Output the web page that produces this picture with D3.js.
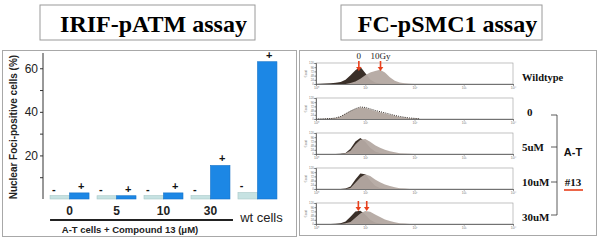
<!DOCTYPE html>
<html>
<head>
<meta charset="utf-8">
<script src="https://cdn.jsdelivr.net/npm/d3@7"></script>
<style>
  body { margin: 0; background: #fff; }
  svg { display: block; }
</style>
</head>
<body>
<div id="chart"></div>
<script>
// ---- left panel data (IRIF-pATM) ----
const groups = ["0", "5", "10", "30", "wt cells"];
const treatments = ["-", "+"];
const minusValues = [1.6, 1.5, 1.6, 1.6, 3.0];
const plusValues = [2.8, 1.5, 2.8, 15.4, 63];
const yTicks = [20, 40, 60];

// ---- right panel data (FC-pSMC1), counts as fraction of box height ----
const binLog = [0.0, 0.1, 0.2, 0.3, 0.4, 0.5, 0.6, 0.7, 0.8, 0.9, 1.0,
                1.1, 1.2, 1.3, 1.4, 1.5, 1.6, 1.7, 1.8, 1.9, 2.0, 2.1];
const histLabels = ["Wildtype", "0", "5uM", "10uM", "30uM"];
const darkCounts = [
  [0, 0.01, 0.02, 0.04, 0.06, 0.1, 0.2, 0.42, 0.66, 0.82, 0.52, 0.22, 0.07, 0.02, 0.01, 0, 0, 0, 0, 0, 0, 0],
  [0, 0, 0.01, 0.02, 0.05, 0.12, 0.25, 0.38, 0.49, 0.57, 0.55, 0.48, 0.41, 0.35, 0.29, 0.23, 0.17, 0.12, 0.08, 0.05, 0.03, 0.01],
  [0, 0, 0, 0, 0, 0.01, 0.05, 0.25, 0.6, 0.76, 0.58, 0.3, 0.12, 0.05, 0.02, 0, 0, 0, 0, 0, 0, 0],
  [0, 0, 0, 0, 0, 0, 0.02, 0.12, 0.45, 0.74, 0.7, 0.4, 0.15, 0.05, 0.02, 0, 0, 0, 0, 0, 0, 0],
  [0, 0, 0, 0, 0.01, 0.03, 0.12, 0.35, 0.6, 0.63, 0.45, 0.2, 0.07, 0.02, 0, 0, 0, 0, 0, 0, 0, 0]
];
const grayCounts = [
  [0, 0, 0, 0, 0, 0, 0, 0.05, 0.12, 0.25, 0.42, 0.55, 0.62, 0.68, 0.55, 0.32, 0.15, 0.07, 0.03, 0.01, 0, 0],
  [0, 0, 0.01, 0.02, 0.05, 0.12, 0.25, 0.38, 0.48, 0.55, 0.52, 0.45, 0.38, 0.32, 0.26, 0.2, 0.15, 0.1, 0.07, 0.04, 0.02, 0.01],
  [0, 0, 0, 0, 0, 0, 0.03, 0.15, 0.45, 0.68, 0.72, 0.58, 0.42, 0.3, 0.2, 0.13, 0.08, 0.04, 0.02, 0.01, 0, 0],
  [0, 0, 0, 0, 0, 0, 0, 0.05, 0.3, 0.55, 0.7, 0.62, 0.45, 0.32, 0.22, 0.14, 0.08, 0.04, 0.02, 0, 0, 0],
  [0, 0, 0, 0, 0, 0, 0.03, 0.1, 0.3, 0.5, 0.62, 0.58, 0.45, 0.33, 0.22, 0.14, 0.08, 0.04, 0.02, 0, 0, 0]
];
const decadeTicks = [1, 10, 100, 1000, 10000];
const decadeLabels = ["10⁰", "10¹", "10²", "10³", "10⁴"];

const W = 601, H = 242;
const svg = d3.select("#chart").append("svg")
  .attr("width", W).attr("height", H);

// title boxes
function titleBox(x, w, label) {
  svg.append("rect").attr("x", x).attr("y", 5).attr("width", w).attr("height", 35)
    .attr("fill", "#fff").attr("stroke", "#9a9a9a").attr("stroke-width", 1);
  svg.append("text").attr("x", x + w / 2 + 6).attr("y", 32)
    .attr("text-anchor", "middle")
    .style("font-family", "'Liberation Serif', 'Times New Roman', serif")
    .style("font-weight", "bold").style("font-size", "24px")
    .text(label);
}
titleBox(40, 215, "IRIF-pATM assay");
titleBox(341, 201, "FC-pSMC1 assay");

// panel frames
svg.append("rect").attr("x", 2.5).attr("y", 50.5).attr("width", 294).attr("height", 186)
  .attr("fill", "none").attr("stroke", "#a8a8a8");
svg.append("rect").attr("x", 299.5).attr("y", 50.5).attr("width", 297).attr("height", 185)
  .attr("fill", "none").attr("stroke", "#a8a8a8");

// ---------------- left bar chart ----------------
const sans = "'Liberation Sans', Arial, sans-serif";
const y = d3.scaleLinear().domain([0, 67]).range([199, 53]);
const x0 = d3.scaleBand().domain(groups).range([43, 284])
  .paddingInner(0.17).paddingOuter(0.15);
const x1 = d3.scaleBand().domain(treatments).range([0, x0.bandwidth()]);

const left = svg.append("g");
const yAxis = d3.axisLeft(y).tickValues([10, 20, 30, 40, 50, 60]).tickSize(3)
  .tickFormat(d => yTicks.includes(d) ? d : "");
const yg = left.append("g").attr("transform", "translate(43,0)").call(yAxis);
yg.select(".domain").attr("stroke", "#333").attr("d", "M0," + y(67) + "V" + y(0));
yg.selectAll(".tick line").attr("stroke", "#333");
yg.selectAll("text").style("font-family", sans).style("font-size", "12px")
  .attr("fill", "#222").attr("x", -5);

left.append("text")
  .attr("transform", "translate(17," + y(33) + ") rotate(-90)")
  .attr("text-anchor", "middle")
  .style("font-family", sans).style("font-weight", "bold").style("font-size", "10px")
  .attr("fill", "#222")
  .text("Nuclear Foci-positive cells (%)");

const barData = [];
groups.forEach((g, i) => {
  barData.push({ g, t: "-", v: minusValues[i] });
  barData.push({ g, t: "+", v: plusValues[i] });
});
const bars = left.selectAll(".bar").data(barData).enter().append("g").attr("class", "bar");
bars.append("rect")
  .attr("x", d => x0(d.g) + x1(d.t))
  .attr("y", d => y(d.v))
  .attr("width", x1.bandwidth())
  .attr("height", d => y(0) - y(d.v))
  .attr("fill", d => d.t === "-" ? "#c6e2e2" : "#1c87e5")
  .attr("stroke", d => d.t === "-" ? "#a9c9c9" : "#1673c8")
  .attr("stroke-width", 0.6);
bars.append("text")
  .attr("x", d => x0(d.g) + x1(d.t) + x1.bandwidth() / 2 + (d.t === "-" ? -6 : 2))
  .attr("y", d => y(d.v) - 3)
  .attr("text-anchor", "middle")
  .style("font-family", sans).style("font-weight", "bold").style("font-size", "11px")
  .attr("fill", "#111")
  .text(d => d.t);

left.selectAll(".xlab").data(groups).enter().append("text")
  .attr("x", d => x0(d) + x0.bandwidth() / 2 + (d === "wt cells" ? 4 : 0))
  .attr("y", d => d === "wt cells" ? 222 : 215)
  .attr("text-anchor", "middle")
  .style("font-family", sans).style("font-size", d => d === "wt cells" ? "13px" : "12px")
  .style("font-weight", d => d === "wt cells" ? "normal" : "bold")
  .attr("fill", "#222")
  .text(d => d);

left.append("line").attr("x1", x0("0")).attr("x2", x0("30") + x0.bandwidth() + 3)
  .attr("y1", 220).attr("y2", 220).attr("stroke", "#222").attr("stroke-width", 2);
left.append("text").attr("x", 130).attr("y", 233).attr("text-anchor", "middle")
  .style("font-family", sans).style("font-weight", "bold").style("font-size", "9.5px")
  .attr("fill", "#222")
  .text("A-T cells + Compound 13 (μM)");

// ---------------- right flow cytometry histograms ----------------
const serif = "'Liberation Serif', 'Times New Roman', serif";
const hx = d3.scaleLog().domain([1, 10000]).range([316, 513]);
const boxTops = [63, 98, 133, 168, 203];
const boxH = 21;
const right = svg.append("g");

histLabels.forEach((lab, i) => {
  const top = boxTops[i];
  const hy = d3.scaleLinear().domain([0, 1]).range([top + boxH, top]);
  const g = right.append("g");
  g.append("rect").attr("x", hx(1)).attr("y", top).attr("width", hx(10000) - hx(1)).attr("height", boxH)
    .attr("fill", "#fff").attr("stroke", "#9a9a9a").attr("stroke-width", 0.6);

  const area = d3.area()
    .x((d, j) => hx(Math.pow(10, binLog[j])))
    .y0(hy(0)).y1(d => hy(d))
    .curve(d3.curveLinear);

  if (i === 1) {
    g.append("path").datum(grayCounts[i]).attr("d", area).attr("fill", "#b4a9a2");
    g.append("path").datum(darkCounts[i])
      .attr("d", area.lineY1())
      .attr("fill", "none").attr("stroke", "#2e2620").attr("stroke-width", 1)
      .attr("stroke-dasharray", "1,1.2");
  } else {
    g.append("path").datum(darkCounts[i]).attr("d", area).attr("fill", "#3a2f28");
    g.append("path").datum(grayCounts[i]).attr("d", area).attr("fill", "#b4a9a2")
      .attr("fill-opacity", 0.95);
  }

  // tiny axes
  const ax = g.append("g").attr("transform", "translate(0," + (top + boxH) + ")")
    .call(d3.axisBottom(hx).tickValues(decadeTicks).tickSize(1.5)
      .tickFormat((d, k) => decadeLabels[k]));
  ax.select(".domain").attr("stroke", "#555").attr("stroke-width", 0.8);
  ax.selectAll(".tick line").attr("stroke", "#777");
  ax.selectAll("text").attr("y", 2.5).style("font-size", "3.5px").attr("fill", "#777");
  const ay = g.append("g").attr("transform", "translate(" + hx(1) + ",0)")
    .call(d3.axisLeft(hy).ticks(5).tickSize(1.5).tickFormat(d => Math.round(d * 120)));
  ay.select(".domain").attr("stroke", "#555").attr("stroke-width", 0.8);
  ay.selectAll(".tick line").attr("stroke", "#777");
  ay.selectAll("text").attr("x", -2).style("font-size", "3px").attr("fill", "#777");
  g.append("text").attr("transform", "translate(" + (hx(1) - 9) + "," + (top + boxH / 2) + ") rotate(-90)")
    .attr("text-anchor", "middle").style("font-size", "3px").attr("fill", "#777").text("Count");

  g.append("text")
    .attr("x", i === 1 ? 527 : 522)
    .attr("y", top + 18)
    .style("font-family", serif).style("font-weight", "bold")
    .style("font-size", i === 0 ? "10.5px" : "11px")
    .attr("fill", "#111")
    .text(lab);
});

// bracket for A-T
const bracketYs = [115, 147, 182, 215];
right.append("line").attr("x1", 557).attr("x2", 557)
  .attr("y1", bracketYs[0]).attr("y2", bracketYs[3]).attr("stroke", "#333").attr("stroke-width", 0.8);
right.selectAll(".brk").data(bracketYs).enter().append("line")
  .attr("x1", 551).attr("x2", 557)
  .attr("y1", d => d).attr("y2", d => d).attr("stroke", "#333").attr("stroke-width", 0.8);
right.append("text").attr("x", 573).attr("y", 156).attr("text-anchor", "middle")
  .style("font-family", sans).style("font-weight", "bold").style("font-size", "11px")
  .attr("fill", "#111").text("A-T");
right.append("text").attr("x", 573).attr("y", 186).attr("text-anchor", "middle")
  .style("font-family", serif).style("font-weight", "bold").style("font-size", "11px")
  .attr("fill", "#111").text("#13");
right.append("line").attr("x1", 564).attr("x2", 583).attr("y1", 190).attr("y2", 190)
  .attr("stroke", "#e8401c").attr("stroke-width", 1.6);

// red arrows
const arrowDefs = [
  { v: Math.pow(10, 0.87), top: boxTops[0], label: "0" },
  { v: Math.pow(10, 1.31), top: boxTops[0], label: "10Gy" },
  { v: Math.pow(10, 0.86), top: boxTops[4], label: "" },
  { v: Math.pow(10, 1.03), top: boxTops[4], label: "" }
];
arrowDefs.forEach(a => {
  const ax = hx(a.v);
  const y0 = a.top - 2, y1 = a.top + 8;
  right.append("line").attr("x1", ax).attr("x2", ax).attr("y1", y0).attr("y2", y1 - 3)
    .attr("stroke", "#e8401c").attr("stroke-width", 1.6);
  right.append("path")
    .attr("d", "M" + (ax - 2.8) + "," + (y1 - 4) + "L" + (ax + 2.8) + "," + (y1 - 4) + "L" + ax + "," + y1 + "Z")
    .attr("fill", "#e8401c");
  if (a.label) {
    right.append("text").attr("x", ax).attr("y", a.top - 4).attr("text-anchor", "middle")
      .style("font-family", serif).style("font-size", "9px").attr("fill", "#222").text(a.label);
  }
});
</script>
</body>
</html>
